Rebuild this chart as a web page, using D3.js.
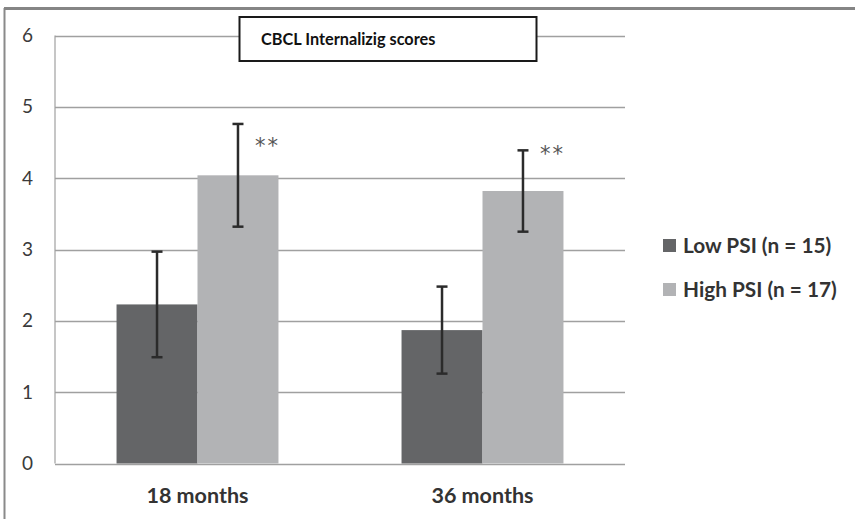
<!DOCTYPE html>
<html>
<head>
<meta charset="utf-8">
<script src="https://cdn.jsdelivr.net/npm/d3@7"></script>
<style>
  body { margin: 0; background: #fff; overflow: hidden; }
  svg { display: block; font-family: Lato, "Open Sans", sans-serif; }
</style>
</head>
<body>
<div id="chart"></div>
<script>
// Data
const categories = ['18 months', '36 months'];
const series = ['Low PSI (n = 15)', 'High PSI (n = 17)'];
const lowMeans = [2.23, 1.87];
const lowErrors = [0.74, 0.61];
const highMeans = [4.04, 3.82];
const highErrors = [0.72, 0.57];
const significance = ['**', '**'];
const yTicks = [0, 1, 2, 3, 4, 5, 6];
const title = 'CBCL Internalizig scores';

const colors = ['#646567', '#b2b3b5'];

const data = categories.map((c, i) => ({
    category: c,
    values: [
        { series: series[0], mean: lowMeans[i], err: lowErrors[i] },
        { series: series[1], mean: highMeans[i], err: highErrors[i] }
    ],
    mark: significance[i]
}));

// Dimensions
const W = 855, H = 519;
const plot = { left: 55, right: 625, top: 35.5, bottom: 463.5 };

const svg = d3.select('#chart').append('svg')
    .attr('width', W)
    .attr('height', H);

// Outer frame (only top and left edges show in the crop)
svg.append('line')
    .attr('x1', 4.5).attr('x2', 4.5).attr('y1', 8).attr('y2', H)
    .attr('stroke', '#8a8a8a').attr('stroke-width', 2);
svg.append('line')
    .attr('x1', 4).attr('x2', W).attr('y1', 8.5).attr('y2', 8.5)
    .attr('stroke', '#858585').attr('stroke-width', 3);

// Scales
const y = d3.scaleLinear().domain([0, 6]).range([plot.bottom, plot.top]);
const x0 = d3.scaleBand().domain(categories).range([plot.left, plot.right]).padding(0);
const x1 = d3.scaleBand().domain(series).range([0, x0.bandwidth()])
    .paddingInner(0).paddingOuter(0.76);

// Gridlines
svg.append('g')
    .selectAll('line')
    .data(yTicks)
    .join('line')
    .attr('x1', plot.left).attr('x2', plot.right)
    .attr('y1', d => Math.round(y(d)) + 0.5).attr('y2', d => Math.round(y(d)) + 0.5)
    .attr('stroke', '#a0a0a0')
    .attr('stroke-width', 1.5);

// Left axis line
svg.append('line')
    .attr('x1', plot.left).attr('x2', plot.left)
    .attr('y1', y(6)).attr('y2', y(0))
    .attr('stroke', '#a0a0a0').attr('stroke-width', 1.2);

// Y axis labels
const yAxis = svg.append('g')
    .attr('transform', `translate(${plot.left},0)`)
    .call(d3.axisLeft(y).tickValues(yTicks).tickSize(0).tickPadding(22).tickFormat(d3.format('d')));
yAxis.select('.domain').remove();
yAxis.selectAll('text')
    .attr('font-family', 'Lato, sans-serif')
    .attr('font-size', 19)
    .attr('fill', '#3a3a3a');

// Bars
const groups = svg.append('g')
    .selectAll('g')
    .data(data)
    .join('g')
    .attr('transform', d => `translate(${x0(d.category)},0)`);

groups.selectAll('rect')
    .data(d => d.values)
    .join('rect')
    .attr('x', d => x1(d.series))
    .attr('y', d => y(d.mean))
    .attr('width', x1.bandwidth())
    .attr('height', d => y(0) - y(d.mean))
    .attr('fill', (d, i) => colors[i]);

// Error bars
const err = groups.selectAll('g.err')
    .data(d => d.values)
    .join('g')
    .attr('class', 'err')
    .attr('transform', d => `translate(${x1(d.series) + x1.bandwidth() / 2},0)`);

err.append('line')
    .attr('x1', 0).attr('x2', 0)
    .attr('y1', d => y(d.mean + d.err)).attr('y2', d => y(d.mean - d.err))
    .attr('stroke', '#2b2b2b').attr('stroke-width', 2.5);

err.selectAll('line.cap')
    .data(d => [d.mean + d.err, d.mean - d.err])
    .join('line')
    .attr('class', 'cap')
    .attr('x1', -5.5).attr('x2', 5.5)
    .attr('y1', v => y(v)).attr('y2', v => y(v))
    .attr('stroke', '#2b2b2b').attr('stroke-width', 2.5);

// Significance marks
groups.append('text')
    .attr('x', d => x1(series[1]) + x1.bandwidth() / 2 + 17)
    .attr('y', (d, i) => y(d.values[1].mean + d.values[1].err) + (i === 0 ? 29 : 11))
    .attr('font-family', '"DejaVu Sans", sans-serif')
    .attr('font-size', 21)
    .attr('letter-spacing', 2)
    .attr('fill', '#555')
    .text(d => d.mark);

// Category labels
svg.append('g')
    .selectAll('text')
    .data(categories)
    .join('text')
    .attr('x', d => x0(d) + x0.bandwidth() / 2)
    .attr('y', 503)
    .attr('text-anchor', 'middle')
    .attr('font-size', 21.5)
    .attr('font-weight', 'bold')
    .attr('fill', '#333')
    .text(d => d);

// Title box
svg.append('rect')
    .attr('x', 239.5).attr('y', 17)
    .attr('width', 297).attr('height', 44)
    .attr('fill', '#fff')
    .attr('stroke', '#1a1a1a')
    .attr('stroke-width', 2);
svg.append('text')
    .attr('x', 261).attr('y', 44.5)
    .attr('font-size', 16.3)
    .attr('font-weight', 'bold')
    .attr('fill', '#111')
    .text(title);

// Legend
const legend = svg.append('g')
    .selectAll('g')
    .data(series)
    .join('g')
    .attr('transform', (d, i) => `translate(663,${239 + i * 44})`);

legend.append('rect')
    .attr('width', 13).attr('height', 13)
    .attr('fill', (d, i) => colors[i]);

legend.append('text')
    .attr('x', 20).attr('y', 14)
    .attr('font-size', 20.8)
    .attr('font-weight', 'bold')
    .attr('fill', '#333')
    .text(d => d);
</script>
</body>
</html>
